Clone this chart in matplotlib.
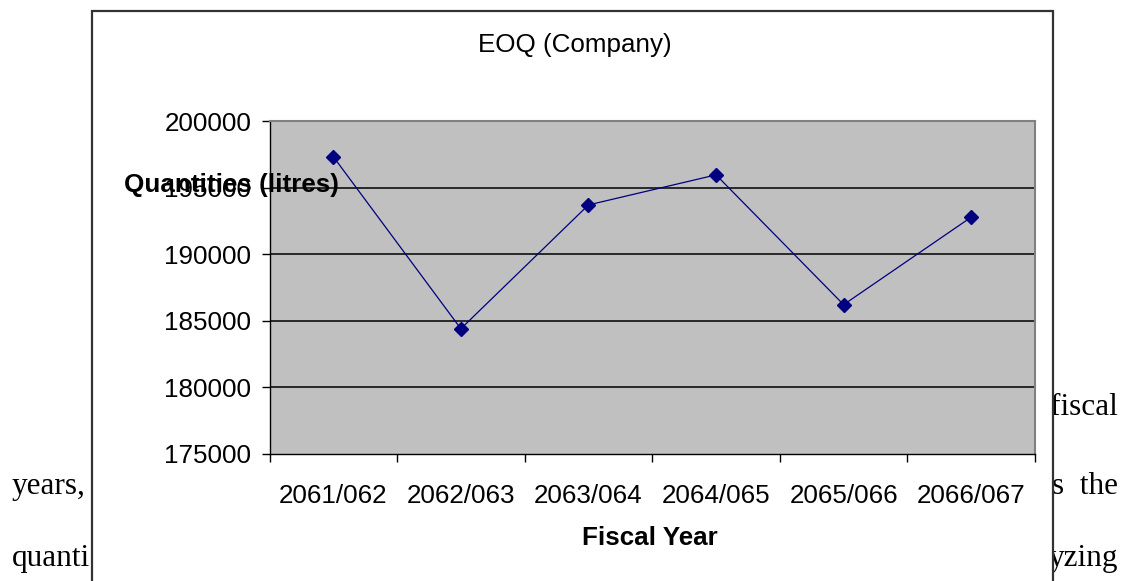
import matplotlib
matplotlib.use("Agg")
import matplotlib.pyplot as plt
from matplotlib.patches import Rectangle

# EOQ values per fiscal year (litres)
years = ["2061/062", "2062/063", "2063/064", "2064/065", "2065/066", "2066/067"]
eoq = [197320, 184380, 193690, 195950, 186190, 192770]
yticks = [175000, 180000, 185000, 190000, 195000, 200000]

# document text peeking out around the embedded chart
page_left = ["years,", "quanti"]
page_left_y = [494, 566]
page_right = ["fiscal", "s  the", "yzing"]
page_right_y = [415, 494, 566]

W, H = 1126, 581
plt.rcParams["font.family"] = ["Liberation Sans", "DejaVu Sans"]
fig = plt.figure(figsize=(W / 100, H / 100), dpi=100)

for s, y in zip(page_left, page_left_y):
    fig.text(12 / W, 1 - y / H, s, family="Liberation Serif", fontsize=22.5,
             ha="left", va="baseline", zorder=-3)
for s, y in zip(page_right, page_right_y):
    fig.text(1118 / W, 1 - y / H, s, family="Liberation Serif", fontsize=22.5,
             ha="right", va="baseline", zorder=-3)

# chart frame (white box covering the page text)
frame = Rectangle((92 / W, -0.1), (1053 - 92) / W, 1.1 - 11 / H,
                  transform=fig.transFigure, facecolor="white",
                  edgecolor="#333333", linewidth=1.6, zorder=-1)
fig.patches.append(frame)

ax = fig.add_axes([269.5 / W, 1 - 453.5 / H, (1035 - 269.5) / W, (453.5 - 121) / H])
ax.set_facecolor("#c0c0c0")

x = list(range(len(years)))
ax.plot(x, eoq, color="#000080", linewidth=0.9, marker="D", markersize=7.5,
        markerfacecolor="#000080", markeredgecolor="#000080", zorder=3)

ax.set_xlim(-0.5, len(years) - 0.5)
ax.set_ylim(yticks[0], yticks[-1])
ax.set_yticks(yticks)
ax.set_yticklabels([str(v) for v in yticks], fontsize=18.7)
for v in yticks[1:-1]:
    ax.axhline(v, color="black", linewidth=1.1, zorder=1)

# ticks on category boundaries, labels in the middle
ax.set_xticks([i - 0.5 for i in range(len(years) + 1)])
ax.set_xticklabels([])
ax.set_xticks(x, minor=True)
ax.set_xticklabels(years, minor=True, fontsize=18.7)
ax.tick_params(axis="x", which="major", length=6, width=1, direction="out")
ax.tick_params(axis="x", which="minor", length=0, pad=22)
ax.tick_params(axis="y", length=6, width=1, pad=7)

for side in ["top", "right"]:
    ax.spines[side].set_color("#808080")
    ax.spines[side].set_linewidth(1.5)
for side in ["left", "bottom"]:
    ax.spines[side].set_color("black")
    ax.spines[side].set_linewidth(1.0)

ax.set_xlabel("Fiscal Year", fontsize=18.7, fontweight="bold")
ax.xaxis.set_label_coords(0.497, -0.254)
ax.xaxis.label.set_va("center")
# in the reference the axis title sits right on top of the 195000 label
ax.set_ylabel("Quantities (litres)", fontsize=18.7, fontweight="bold",
              rotation=0, ha="center", va="center")
ax.yaxis.set_label_coords(-0.0503, 0.8075)

fig.text(575 / W, 1 - 45 / H, "EOQ (Company)", fontsize=18.7,
         ha="center", va="center")

fig.savefig("out.png", dpi=100)
